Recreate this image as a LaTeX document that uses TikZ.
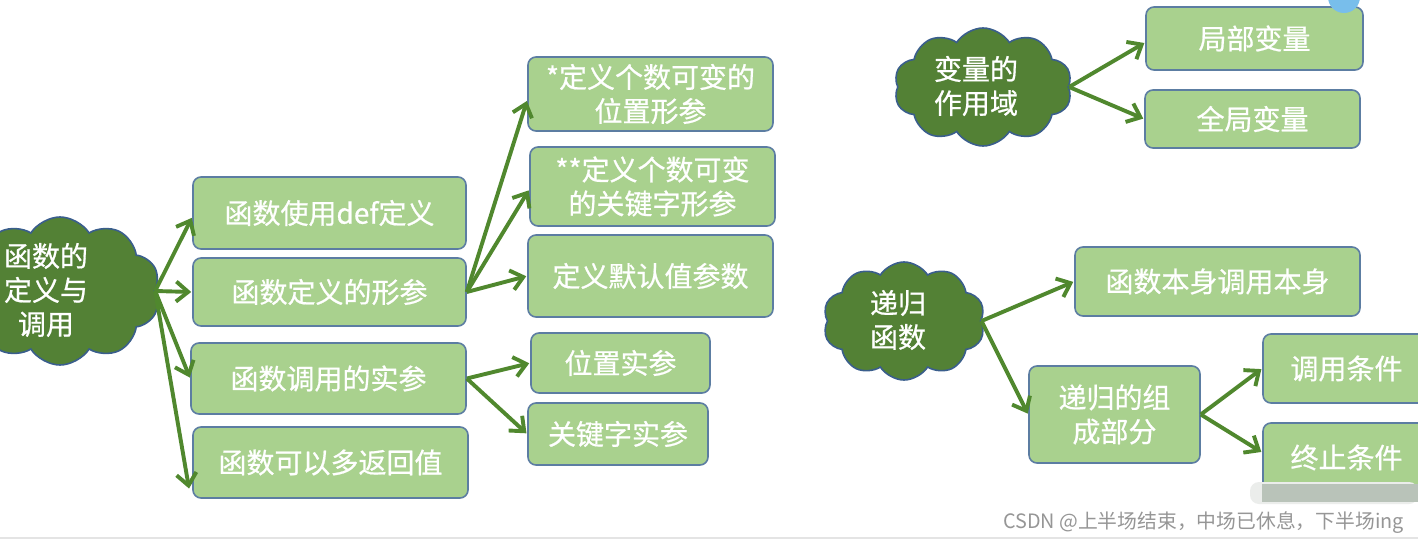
\documentclass[tikz,border=0pt]{standalone}
\usepackage{fontspec}
\setmainfont{Noto Sans CJK SC}
\newfontfamily\cjk[FakeBold=0.7]{Noto Sans CJK SC}
\newfontfamily\cjkwm{Noto Sans CJK SC}
\usetikzlibrary{shapes.symbols,arrows.meta,calc}
\definecolor{boxfill}{RGB}{169,209,142}
\definecolor{boxline}{RGB}{92,125,162}
\definecolor{cloudfill}{RGB}{83,129,53}
\definecolor{cloudline}{RGB}{58,94,140}
\definecolor{arrowgreen}{RGB}{80,136,46}
\definecolor{wmgray}{RGB}{150,150,150}
\tikzset{
  box/.style={draw=boxline, fill=boxfill, line width=1.6pt, rounded corners=8pt,
    text=white, align=center, inner sep=0pt,
    font=\cjk\fontsize{28}{34}\selectfont},
  cloudbox/.style={cloud, cloud puffs=10, cloud puff arc=115, cloud ignores aspect,
    draw=cloudline, fill=cloudfill, line width=1.6pt, inner sep=0pt},
  cloudtext/.style={text=white, align=center, inner sep=0pt,
    font=\cjk\fontsize{28}{34}\selectfont},
  conn/.style={draw=arrowgreen, line width=3.9pt,
    -{Straight Barb[length=12pt,width=20pt,line width=3.9pt]}, shorten >=1pt},
}
\begin{document}
\begin{tikzpicture}[x=1pt,y=-1pt]
\useasboundingbox (0,0) rectangle (1418,543);
\fill[white] (0,0) rectangle (1418,543);

% clouds
\node[cloudbox, minimum width=200pt, minimum height=148pt] (k1) at (60,291) {};
\node[cloudtext] (k1t) at (46,290) {函数的\\定义与\\调用};
\node[cloudbox, minimum width=178pt, minimum height=118pt] (k2) at (983,87) {};
\node[cloudtext] (k2t) at (976,86) {变量的\\作用域};
\node[cloudbox, minimum width=162pt, minimum height=118pt] (k3) at (904,321) {};
\node[cloudtext] (k3t) at (898,320) {递归\\函数};

% left group boxes
\node[box, minimum width=273pt, minimum height=72pt] (b1) at (329.5,213) {函数使用def定义};
\node[box, minimum width=273pt, minimum height=68pt] (b2) at (329.5,292) {函数定义的形参};
\node[box, minimum width=275pt, minimum height=71pt] (b3) at (328.5,378.5) {函数调用的实参};
\node[box, minimum width=275pt, minimum height=71pt] (b4) at (330.5,462.5) {函数可以多返回值};

\node[box, minimum width=245pt, minimum height=74pt] (c1) at (650.5,94) {*定义个数可变的\\位置形参};
\node[box, minimum width=245pt, minimum height=79pt] (c2) at (652.5,186.5) {**定义个数可变\\的关键字形参};
\node[box, minimum width=245pt, minimum height=82pt] (c3) at (650.5,276) {定义默认值参数};
\node[box, minimum width=179pt, minimum height=60pt] (d1) at (620.5,363) {位置实参};
\node[box, minimum width=180pt, minimum height=62pt] (d2) at (618,434) {关键字实参};

% right group boxes
\node[box, minimum width=217pt, minimum height=63pt] (e1) at (1254.5,38.5) {局部变量};
\node[box, minimum width=215pt, minimum height=58pt] (e2) at (1252.5,119) {全局变量};
\node[box, minimum width=285pt, minimum height=69pt] (f1) at (1217.5,281.5) {函数本身调用本身};
\node[box, minimum width=171pt, minimum height=97pt] (f2) at (1114.5,414.5) {递归的组\\成部分};
\node[box, minimum width=167pt, minimum height=69pt] (g1) at (1346.5,368.5) {调用条件};
\node[box, minimum width=167pt, minimum height=69pt] (g2) at (1346.5,457.5) {终止条件};

% connectors
\draw[conn] (k1.east) -- ([yshift=-4pt]b1.west);
\draw[conn] (k1.east) -- (b2.west);
\draw[conn] (k1.east) -- (b3.west);
\draw[conn] (k1.east) -- ([xshift=-3pt,yshift=-27pt]b4.west);
\draw[conn] (b2.east) -- ([yshift=-6pt]c1.west);
\draw[conn] (b2.east) -- ([yshift=-3pt]c2.west);
\draw[conn] (b2.east) -- (c3.west);
\draw[conn] (b3.east) -- (d1.west);
\draw[conn] (b3.east) -- (d2.west);
\draw[conn] (k2.east) -- ([yshift=-4pt]e1.west);
\draw[conn] (k2.east) -- (e2.west);
\draw[conn] (k3.east) -- (f1.west);
\draw[conn] (k3.east) -- (f2.west);
\draw[conn] (f2.east) -- (g1.west);
\draw[conn] (f2.east) -- ([yshift=5pt]g2.west);

% small blue badge at top right
\fill[color={rgb,255:red,120;green,190;blue,235}] (1344,-3) circle (16pt);

% blurred bar over bottom right box
\fill[color={rgb,255:red,235;green,237;blue,235}, rounded corners=9pt] (1250,482) rectangle (1418,504);
\fill[color={rgb,255:red,185;green,195;blue,185}] (1262,484) rectangle (1418,502);

% watermark
\node[anchor=east, text=wmgray, inner sep=0pt, font=\cjkwm\fontsize{19.8}{22}\selectfont] (wm) at (1404,523) {CSDN @上半场结束，中场已休息，下半场ing};
\draw[color={rgb,255:red,228;green,228;blue,228}, line width=1.5pt] (0,538) -- (1418,538);
\end{tikzpicture}
\end{document}
